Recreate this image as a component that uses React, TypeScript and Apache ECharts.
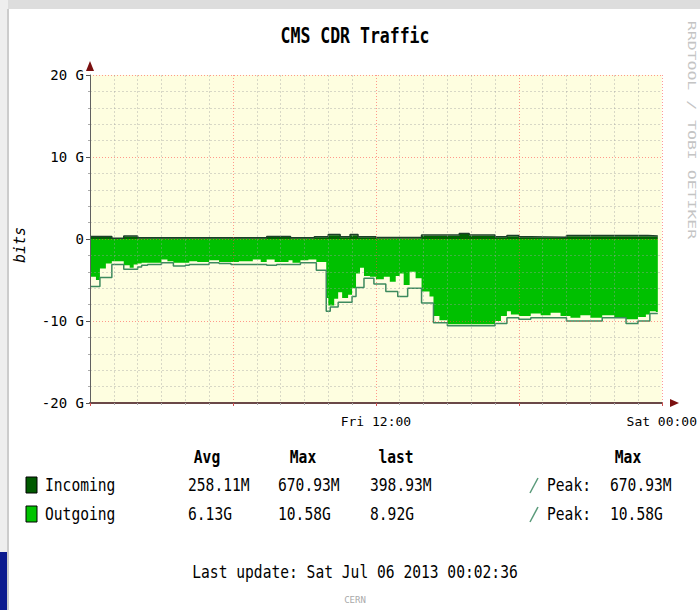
import React, { useEffect, useRef } from 'react';
import * as echarts from 'echarts';

// ---------- data (time in minutes from Fri 00:00, values in G bit/s) ----------
const chartTitle = 'CMS CDR Traffic';
const endMinute = 1430;
const xTickLabels: Record<number, string> = { 720: 'Fri 12:00', 1440: 'Sat 00:00' };
const yTickValues = [-20, -10, 0, 10, 20];

const incomingAvgTimes = [0, 55, 85, 120, 445, 505, 565, 600, 630, 655, 675, 720, 835, 930, 955, 1020, 1050, 1080, 1110, 1200, 1405];
const incomingAvgValues = [0.25, 0.05, 0.3, 0.1, 0.25, 0.1, 0.2, 0.45, 0.2, 0.45, 0.2, 0.1, 0.4, 0.6, 0.4, 0.2, 0.35, 0.2, 0.15, 0.35, 0.3];
const incomingPeakValues = [0.32, 0.1, 0.38, 0.15, 0.32, 0.15, 0.27, 0.55, 0.27, 0.55, 0.27, 0.18, 0.48, 0.67, 0.48, 0.27, 0.42, 0.27, 0.22, 0.42, 0.38];

const outgoingAvgTimes = [0, 15, 25, 40, 55, 85, 100, 110, 120, 130, 180, 195, 210, 250, 270, 300, 325, 375, 410, 430, 445, 465, 500, 510, 530, 550, 570, 595, 600, 615, 625, 635, 650, 660, 670, 680, 690, 705, 720, 740, 755, 770, 780, 790, 805, 820, 835, 855, 865, 880, 900, 1020, 1035, 1050, 1060, 1080, 1110, 1135, 1160, 1185, 1210, 1235, 1260, 1290, 1320, 1350, 1380, 1400, 1410, 1425];
const outgoingAvgValues = [4.6, 5.0, 3.6, 3.0, 2.7, 3.2, 3.5, 3.1, 3.0, 2.9, 2.5, 2.7, 2.9, 2.7, 2.8, 2.6, 2.8, 2.7, 2.5, 2.8, 2.5, 2.8, 2.6, 2.9, 2.6, 2.5, 2.8, 7.2, 8.1, 7.3, 6.5, 7.2, 6.8, 6.0, 4.2, 3.5, 4.5, 4.6, 4.9, 4.6, 5.2, 4.5, 4.2, 5.6, 4.0, 4.8, 6.4, 7.0, 9.4, 9.9, 10.4, 10.0, 9.4, 8.8, 9.2, 9.4, 9.1, 9.3, 9.0, 9.4, 9.6, 9.3, 9.6, 9.3, 9.5, 9.8, 9.5, 9.2, 8.8, 8.9];

const outgoingPeakTimes = [0, 25, 55, 85, 120, 130, 145, 180, 210, 240, 250, 300, 325, 355, 445, 470, 530, 570, 595, 605, 625, 660, 670, 690, 715, 745, 775, 800, 835, 865, 900, 1020, 1050, 1080, 1110, 1200, 1290, 1350, 1380, 1410];
const outgoingPeakValues = [5.8, 4.7, 3.1, 3.7, 3.4, 3.2, 3.1, 2.9, 3.3, 3.2, 3.1, 2.9, 3.0, 3.1, 3.2, 3.1, 2.9, 3.8, 8.8, 8.3, 7.7, 7.0, 5.9, 4.8, 5.5, 6.4, 7.0, 6.0, 7.8, 10.2, 10.58, 10.3, 9.6, 9.8, 9.6, 10.0, 9.6, 10.3, 10.0, 9.1];

const legendHeaders = ['Avg', 'Max', 'last', 'Max'];
const incomingStats = ['258.11M', '670.93M', '398.93M', '670.93M'];
const outgoingStats = ['6.13G', '10.58G', '8.92G', '10.58G'];
const lastUpdate = 'Last update: Sat Jul 06 2013 00:02:36';

function buildSteps(times: number[], values: number[], sign: number) {
  const pts: number[][] = times.map((t, i) => [t, sign * values[i]]);
  pts.push([endMinute, sign * values[values.length - 1]]);
  return pts;
}

const MONO = '"DejaVu Sans Mono", "Liberation Mono", monospace';

export default function App() {
  const ref = useRef<HTMLDivElement>(null);
  useEffect(() => {
    if (!ref.current) return;
    const chart = echarts.init(ref.current, null, { renderer: 'svg' });
    const txt = (text: string, x: number, y: number, opts: any = {}) => ({
      type: 'text',
      x,
      y,
      scaleX: opts.scaleX ?? 0.86,
      scaleY: opts.scaleY ?? 1,
      rotation: opts.rotation ?? 0,
      z: 10,
      style: {
        text,
        fill: opts.fill ?? '#000',
        font: opts.font ?? `17px ${MONO}`,
        textAlign: opts.align ?? 'left',
        textVerticalAlign: 'middle',
      },
    });
    const statCols = [188, 278, 370, 610];
    const headerCenters = [207, 303, 396, 628];
    const graphics: any[] = [
      { type: 'rect', shape: { x: 0, y: 0, width: 700, height: 9 }, style: { fill: '#dddddd' }, z: 1 },
      { type: 'rect', shape: { x: 0, y: 0, width: 8, height: 610 }, style: { fill: '#eeeeee' }, z: 1 },
      { type: 'rect', shape: { x: 7, y: 9, width: 2, height: 601 }, style: { fill: '#cccccc' }, z: 1 },
      { type: 'rect', shape: { x: 0, y: 552, width: 7, height: 58 }, style: { fill: '#0b1a8e' }, z: 2 },
      // axis arrows
      { type: 'polygon', shape: { points: [[86, 71], [94, 71], [90, 61]] }, style: { fill: '#7a1010' }, z: 10 },
      { type: 'polygon', shape: { points: [[670, 399], [670, 407], [679, 403]] }, style: { fill: '#7a1010' }, z: 10 },
      txt(chartTitle, 355, 36, { font: `bold 22px ${MONO}`, scaleX: 0.75, align: 'center' }),
      txt('bits', 20, 245, { font: `italic 15px ${MONO}`, scaleX: 1, rotation: Math.PI / 2, align: 'center' }),
      txt('RRDTOOL / TOBI OETIKER', 692, 130, { font: `11px ${MONO}`, scaleX: 1.5, rotation: -Math.PI / 2, align: 'center', fill: '#c4c4c4' }),
      // legend
      { type: 'rect', shape: { x: 26, y: 477, width: 11, height: 16 }, style: { fill: '#005a00', stroke: '#000', lineWidth: 1 }, z: 10 },
      { type: 'rect', shape: { x: 26, y: 506, width: 11, height: 16 }, style: { fill: '#00c400', stroke: '#000', lineWidth: 1 }, z: 10 },
      txt('Incoming', 45, 485),
      txt('Outgoing', 45, 514),
      { type: 'line', shape: { x1: 530, y1: 493, x2: 538, y2: 478 }, style: { stroke: '#5a9a7a', lineWidth: 1.5 }, z: 10 },
      { type: 'line', shape: { x1: 530, y1: 522, x2: 538, y2: 507 }, style: { stroke: '#5a9a7a', lineWidth: 1.5 }, z: 10 },
      txt('Peak:', 547, 485),
      txt('Peak:', 547, 514),
      txt(lastUpdate, 355, 572, { align: 'center' }),
      txt('CERN', 355, 600, { font: `9px ${MONO}`, scaleX: 1, align: 'center', fill: '#aaaaaa' }),
    ];
    legendHeaders.forEach((h, i) => graphics.push(txt(h, headerCenters[i], 457, { font: `bold 17px ${MONO}`, align: 'center' })));
    incomingStats.forEach((s, i) => graphics.push(txt(s, statCols[i], 485)));
    outgoingStats.forEach((s, i) => graphics.push(txt(s, statCols[i], 514)));

    const splitMajor = { show: true, lineStyle: { color: 'rgba(255,70,70,0.55)', type: [1, 2], width: 1 } };
    const splitMinor = { show: true, lineStyle: { color: 'rgba(160,160,160,0.4)', type: [2, 2], width: 1 } };

    chart.setOption({
      animation: false,
      backgroundColor: '#ffffff',
      grid: { left: 90, top: 75, width: 577, height: 328, show: true, backgroundColor: '#fefee0', borderWidth: 0 },
      xAxis: {
        type: 'value', min: 0, max: 1440, interval: 360, z: 3,
        axisLine: { show: true, onZero: false, lineStyle: { color: '#6a4848', width: 2 } },
        axisTick: { show: true, length: 3, lineStyle: { color: '#d05050' } },
        minorTick: { show: true, splitNumber: 6, length: 2, lineStyle: { color: '#aaa' } },
        splitLine: splitMajor,
        minorSplitLine: splitMinor,
        axisLabel: {
          formatter: (v: number) => xTickLabels[v] ?? '',
          fontFamily: MONO, fontSize: 13, color: '#000', margin: 12, showMaxLabel: true, hideOverlap: false,
        },
      },
      yAxis: {
        type: 'value', min: -20, max: 20, interval: 10, z: 3,
        axisLine: { show: true, lineStyle: { color: '#606060', width: 1 } },
        axisTick: { show: true, length: 4, lineStyle: { color: '#555' } },
        minorTick: { show: true, splitNumber: 5, length: 2, lineStyle: { color: '#aaa' } },
        splitLine: splitMajor,
        minorSplitLine: splitMinor,
        axisLabel: {
          formatter: (v: number) => (yTickValues.includes(v) ? (v === 0 ? '0' : `${v} G`) : ''),
          fontFamily: MONO, fontSize: 14, color: '#000', margin: 6,
        },
      },
      series: [
        {
          type: 'line', step: 'end', symbol: 'none', z: 2,
          data: buildSteps(outgoingAvgTimes, outgoingAvgValues, -1),
          lineStyle: { width: 0 }, areaStyle: { color: '#00c000', opacity: 1 },
        },
        {
          type: 'line', step: 'end', symbol: 'none', z: 2,
          data: buildSteps(incomingAvgTimes, incomingAvgValues, 1),
          lineStyle: { width: 0 }, areaStyle: { color: '#006400', opacity: 1 },
        },
        {
          type: 'line', step: 'end', symbol: 'none', z: 2,
          data: buildSteps(outgoingPeakTimes, outgoingPeakValues, -1),
          lineStyle: { width: 1.5, color: '#3d8a5e' },
        },
        {
          type: 'line', step: 'end', symbol: 'none', z: 2,
          data: buildSteps(incomingAvgTimes, incomingPeakValues, 1),
          lineStyle: { width: 1.5, color: '#1c3f28' },
        },
      ],
      graphic: graphics,
    });
    return () => chart.dispose();
  }, []);
  return <div ref={ref} style={{ position: 'fixed', left: 0, top: 0, width: 700, height: 610, background: '#fff' }} />;
}
